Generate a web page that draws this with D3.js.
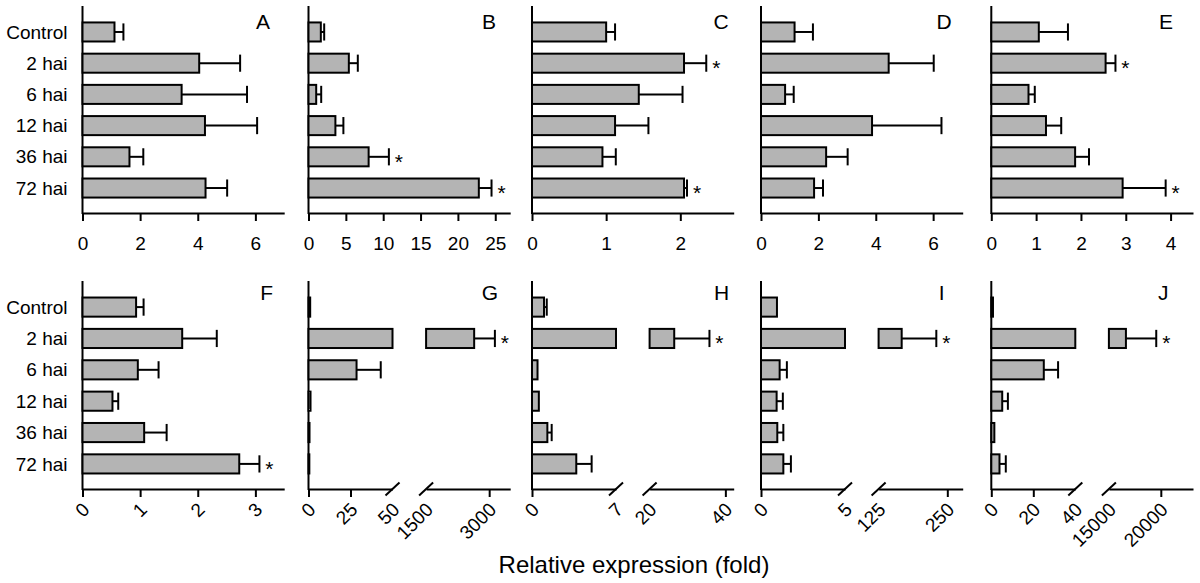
<!DOCTYPE html>
<html>
<head>
<meta charset="utf-8">
<script src="https://cdn.jsdelivr.net/npm/d3@7"></script>
<style>
  html, body { margin: 0; padding: 0; background: #fff; }
  svg { display: block; font-family: "Liberation Sans", Arial, sans-serif; }
</style>
</head>
<body>
<svg id="chart" width="1200" height="583"></svg>
<script>
// ---------------- DATA ----------------
const categories = ["Control", "2 hai", "6 hai", "12 hai", "36 hai", "72 hai"];

const meanA = [1.11, 4.05, 3.44, 4.25, 1.63, 4.27];
const sdA   = [0.31, 1.42, 2.27, 1.81, 0.48, 0.75];
const meanB = [1.65, 5.4, 1.03, 3.6, 8.05, 22.8];
const sdB   = [0.45, 1.2, 0.67, 1.07, 2.71, 1.7];
const meanC = [1.0, 2.05, 1.44, 1.12, 0.95, 2.05];
const sdC   = [0.12, 0.3, 0.59, 0.45, 0.18, 0.04];
const meanD = [1.17, 4.45, 0.84, 3.87, 2.27, 1.85];
const sdD   = [0.64, 1.57, 0.3, 2.42, 0.75, 0.31];
const meanE = [1.06, 2.55, 0.83, 1.22, 1.87, 2.93];
const sdE   = [0.65, 0.22, 0.14, 0.34, 0.31, 0.96];
const meanF = [0.93, 1.73, 0.96, 0.52, 1.07, 2.72];
const sdF   = [0.13, 0.6, 0.36, 0.1, 0.39, 0.35];
const meanG = [1.0, 2643, 28.6, 1.2, 0.6, 0.5];
const sdG   = [0, 493, 14.4, 0, 0, 0];
const meanH = [1.0, 26.5, 0.46, 0.57, 1.28, 3.69];
const sdH   = [0.23, 9.3, 0, 0, 0.36, 1.28];
const meanI = [0.95, 167, 1.11, 0.93, 0.97, 1.33];
const sdI   = [0, 63, 0.43, 0.37, 0.36, 0.45];
const meanJ = [0.8, 16640, 25.0, 5.2, 1.45, 3.9];
const sdJ   = [0, 2920, 6.8, 2.7, 0, 3.0];

const starsA = [], starsB = ["36 hai", "72 hai"], starsC = ["2 hai", "72 hai"], starsD = [],
      starsE = ["2 hai", "72 hai"], starsF = ["72 hai"], starsG = ["2 hai"], starsH = ["2 hai"],
      starsI = ["2 hai"], starsJ = ["2 hai"];

const ticksA = [0, 2, 4, 6];
const ticksB = [0, 5, 10, 15, 20, 25];
const ticksC = [0, 1, 2];
const ticksD = [0, 2, 4, 6];
const ticksE = [0, 1, 2, 3, 4];
const ticksF = [0, 1, 2, 3];
const ticksGLeft = [0, 25, 50],   ticksGRight = [1500, 3000];
const ticksHLeft = [0, 7],        ticksHRight = [20, 40];
const ticksILeft = [0, 5],        ticksIRight = [125, 250];
const ticksJLeft = [0, 20, 40],   ticksJRight = [15000, 20000];

const axisTitle = "Relative expression (fold)";

// ---------------- PANELS ----------------
const panels = [
  { id: "A", row: 0, col: 0, mean: meanA, sd: sdA, stars: starsA, ticks: ticksA, domain: [0, 7],    labels: true },
  { id: "B", row: 0, col: 1, mean: meanB, sd: sdB, stars: starsB, ticks: ticksB, domain: [0, 27] },
  { id: "C", row: 0, col: 2, mean: meanC, sd: sdC, stars: starsC, ticks: ticksC, domain: [0, 2.72] },
  { id: "D", row: 0, col: 3, mean: meanD, sd: sdD, stars: starsD, ticks: ticksD, domain: [0, 7.03] },
  { id: "E", row: 0, col: 4, mean: meanE, sd: sdE, stars: starsE, ticks: ticksE, domain: [0, 4.5] },
  { id: "F", row: 1, col: 0, mean: meanF, sd: sdF, stars: starsF, ticks: ticksF, domain: [0, 3.5],  labels: true },
  { id: "G", row: 1, col: 1, mean: meanG, sd: sdG, stars: starsG, broken: true,
    ticksL: ticksGLeft, ticksR: ticksGRight, domainL: [0, 50], domainR: [1500, 3500] },
  { id: "H", row: 1, col: 2, mean: meanH, sd: sdH, stars: starsH, broken: true,
    ticksL: ticksHLeft, ticksR: ticksHRight, domainL: [0, 7], domainR: [20, 42.2] },
  { id: "I", row: 1, col: 3, mean: meanI, sd: sdI, stars: starsI, broken: true,
    ticksL: ticksILeft, ticksR: ticksIRight, domainL: [0, 5], domainR: [125, 278] },
  { id: "J", row: 1, col: 4, mean: meanJ, sd: sdJ, stars: starsJ, broken: true,
    ticksL: ticksJLeft, ticksR: ticksJRight, domainL: [0, 40], domainR: [15000, 23100] }
];

// ---------------- LAYOUT ----------------
const colX = [82.5, 308.5, 532, 761, 991.3];
const axisW = 201.7;
const leftSegW = 84;
const rightSegStart = 117.6;
const rowTop = [7, 282];
const rowBottom = [213, 489];
const letterPos = {
  A: [263, 29], B: [489, 29], C: [721, 29], D: [944, 29], E: [1166, 29],
  F: [266.7, 300], G: [490, 300], H: [721.7, 300], I: [941.7, 300], J: [1163.3, 300]
};
const FONT = 19;
const BAR_FILL = "#b4b4b4";
const fmt = d => String(d);

const svg = d3.select("#chart");

function styleAxis(g) {
  g.select(".domain").attr("stroke", "#000").attr("stroke-width", 2);
  g.selectAll(".tick line").attr("stroke", "#000").attr("stroke-width", 2);
  g.selectAll(".tick text").attr("fill", "#000").style("font-size", FONT + "px");
}

function rotateLabels(g) {
  g.selectAll(".tick text")
    .attr("x", 0).attr("y", 0)
    .attr("dy", "0.35em")
    .attr("text-anchor", "end")
    .attr("transform", "translate(3,17) rotate(-45)");
}

function slash(g, x, y) {
  g.append("line")
    .attr("x1", x - 7).attr("y1", y + 6.5)
    .attr("x2", x + 7).attr("y2", y - 6.5)
    .attr("stroke", "#000").attr("stroke-width", 2);
}

panels.forEach(p => {
  const x0 = colX[p.col];
  const yTop = rowTop[p.row], yBot = rowBottom[p.row];
  const g = svg.append("g");

  const y = d3.scaleBand().domain(categories).range([yTop, yBot])
    .paddingInner(0.39).paddingOuter(0.495);
  const bh = y.bandwidth();

  let xpos, barSegs;
  if (!p.broken) {
    const x = d3.scaleLinear().domain(p.domain).range([x0, x0 + axisW]);
    const ax = g.append("g").attr("transform", `translate(0,${yBot})`)
      .call(d3.axisBottom(x).tickValues(p.ticks).tickFormat(fmt).tickSize(8).tickPadding(16).tickSizeOuter(0));
    styleAxis(ax);
    if (p.row === 1) rotateLabels(ax);
    xpos = v => x(v);
    barSegs = v => [[x(0), x(v)]];
  } else {
    const xl = d3.scaleLinear().domain(p.domainL).range([x0, x0 + leftSegW]);
    const xr = d3.scaleLinear().domain(p.domainR).range([x0 + rightSegStart, x0 + axisW]);
    const lmax = p.domainL[1], rmin = p.domainR[0];
    const axL = g.append("g").attr("transform", `translate(0,${yBot})`)
      .call(d3.axisBottom(xl).tickValues(p.ticksL).tickFormat(fmt).tickSize(8).tickPadding(16).tickSizeOuter(0));
    const axR = g.append("g").attr("transform", `translate(0,${yBot})`)
      .call(d3.axisBottom(xr).tickValues(p.ticksR).tickFormat(fmt).tickSize(8).tickPadding(16).tickSizeOuter(0));
    [axL, axR].forEach(a => { styleAxis(a); rotateLabels(a); });
    axL.selectAll(".tick").filter(d => d === lmax).select("line").remove();
    axR.selectAll(".tick").filter(d => d === rmin).select("line").remove();
    slash(g, xl(lmax), yBot);
    slash(g, xr(rmin), yBot);
    xpos = v => (v <= lmax ? xl(v) : xr(v));
    barSegs = v => (v <= lmax ? [[xl(0), xl(v)]] : [[xl(0), xl(lmax)], [xr(rmin), xr(v)]]);
  }

  // y axis line
  g.append("line")
    .attr("x1", x0).attr("x2", x0).attr("y1", yTop).attr("y2", yBot)
    .attr("stroke", "#000").attr("stroke-width", 2).attr("stroke-linecap", "square");

  categories.forEach((c, i) => {
    const m = p.mean[i], s = p.sd[i];
    const cy = y(c) + bh / 2;
    barSegs(m).forEach(([a, b]) => {
      g.append("rect")
        .attr("x", a).attr("y", y(c))
        .attr("width", Math.max(0, b - a)).attr("height", bh)
        .attr("fill", BAR_FILL).attr("stroke", "#000").attr("stroke-width", 2);
    });
    let endX = xpos(m);
    if (s > 0) {
      const ex = xpos(m + s);
      g.append("line").attr("x1", xpos(m)).attr("x2", ex).attr("y1", cy).attr("y2", cy)
        .attr("stroke", "#000").attr("stroke-width", 2);
      g.append("line").attr("x1", ex).attr("x2", ex).attr("y1", cy - bh * 0.45).attr("y2", cy + bh * 0.45)
        .attr("stroke", "#000").attr("stroke-width", 2);
      endX = ex;
    }
    if (p.stars.includes(c)) {
      g.append("text").attr("x", endX + 10).attr("y", cy + 12)
        .attr("text-anchor", "middle").style("font-size", "21px").text("*");
    }
  });

  if (p.labels) {
    g.selectAll(".cat").data(categories).join("text")
      .attr("x", x0 - 15).attr("y", d => y(d) + bh / 2).attr("dy", "0.35em")
      .attr("text-anchor", "end").style("font-size", FONT + "px").text(d => d);
  }

  const lp = letterPos[p.id];
  g.append("text").attr("x", lp[0]).attr("y", lp[1])
    .attr("text-anchor", "middle").style("font-size", "21px").text(p.id);
});

svg.append("text").attr("x", 634).attr("y", 573).attr("text-anchor", "middle")
  .style("font-size", "24px").text(axisTitle);
</script>
</body>
</html>
